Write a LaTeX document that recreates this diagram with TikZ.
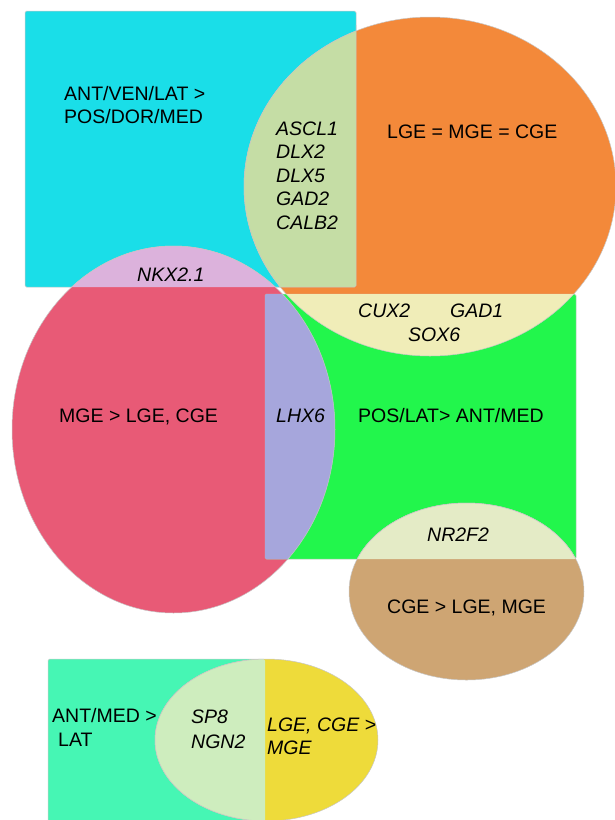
\documentclass[tikz,border=0pt]{standalone}
\usepackage{fontspec}
\setmainfont{Liberation Sans}
\definecolor{cCyan}{HTML}{1ADEE8}
\definecolor{cOrange}{HTML}{F3893A}
\definecolor{cLensA}{HTML}{C5DDA5}
\definecolor{cPink}{HTML}{DCB2DC}
\definecolor{cRed}{HTML}{E85A76}
\definecolor{cPurple}{HTML}{A6A6DC}
\definecolor{cGreen}{HTML}{22F64C}
\definecolor{cLensB}{HTML}{F0EDB8}
\definecolor{cBrown}{HTML}{CEA573}
\definecolor{cLensC}{HTML}{E4EBC6}
\definecolor{cTeal}{HTML}{46F6B4}
\definecolor{cYellow}{HTML}{EEDB3A}
\definecolor{cLensD}{HTML}{CEEDBE}
\tikzset{
  edge/.style={draw=black!22, line width=0.5pt},
  lbl/.style={anchor=base west, inner sep=0pt, font=\fontsize{19.5}{23.5}\selectfont},
  ilbl/.style={lbl, font=\fontsize{19.5}{23.5}\selectfont\itshape},
}
\begin{document}
\begin{tikzpicture}[x=1pt,y=-1pt]
\useasboundingbox (0,0) rectangle (614,820);
% shape definitions
\def\cyanrect{(25,11) rectangle (356,287)}
\def\orangeell{(430,186.5) ellipse [x radius=186, y radius=169.5]}
\def\redell{(173.5,429.5) ellipse [x radius=161.5, y radius=183.5]}
\def\greenrect{(265,294) rectangle (576,559)}
\def\brownell{(466.5,591.5) ellipse [x radius=117.5, y radius=88.5]}
\def\tealrect{(48,659) rectangle (265,830)}
\def\yellowell{(266.5,740) ellipse [x radius=111.5, y radius=81]}
% cyan rectangle and orange ellipse
\path[fill=cCyan, edge, rounded corners=1.5pt] \cyanrect;
\path[fill=cOrange, edge] \orangeell;
\begin{scope}
  \clip[rounded corners=1.5pt] \cyanrect;
  \path[fill=cLensA, edge] \orangeell;
\end{scope}
\path[edge, rounded corners=1.5pt] (356,25) -- (356,287) -- (244,287);
% red ellipse
\path[fill=cRed, edge] \redell;
\begin{scope}
  \clip[rounded corners=1.5pt] \cyanrect;
  \path[fill=cPink, edge] \redell;
\end{scope}
% green rectangle
\path[fill=cGreen, edge, rounded corners=1.5pt] \greenrect;
\begin{scope}
  \clip[rounded corners=1.5pt] \greenrect;
  \path[fill=cLensB, edge] \orangeell;
  \path[fill=cPurple, edge] \redell;
\end{scope}
% brown ellipse
\path[fill=cBrown, edge] \brownell;
\begin{scope}
  \clip[rounded corners=1.5pt] \greenrect;
  \path[fill=cLensC, edge] \brownell;
\end{scope}
% teal rectangle and yellow ellipse
\path[fill=cTeal, edge, rounded corners=1.5pt] \tealrect;
\path[fill=cYellow, edge] \yellowell;
\begin{scope}
  \clip[rounded corners=1.5pt] \tealrect;
  \path[fill=cLensD, edge] \yellowell;
\end{scope}
% labels
\node[lbl] (t1a) at (64,100) {ANT/VEN/LAT >};
\node[lbl] (t1b) at (64,123.5) {POS/DOR/MED};
\node[ilbl] (g1) at (276,135) {ASCL1};
\node[ilbl] (g2) at (276,158.5) {DLX2};
\node[ilbl] (g3) at (276,182) {DLX5};
\node[ilbl] (g4) at (276,205.5) {GAD2};
\node[ilbl] (g5) at (276,229) {CALB2};
\node[lbl] (t2) at (387,138) {LGE = MGE = CGE};
\node[ilbl] (nkx) at (137,281) {NKX2.1};
\node[ilbl] (cux) at (358,317) {CUX2};
\node[ilbl] (gad1) at (450,317) {GAD1};
\node[ilbl] (sox) at (408,341) {SOX6};
\node[lbl] (t3) at (59,422) {MGE > LGE, CGE};
\node[ilbl] (lhx) at (276,422) {LHX6};
\node[lbl] (t4) at (358,422) {POS/LAT> ANT/MED};
\node[ilbl] (nr) at (427,541) {NR2F2};
\node[lbl] (t5) at (387,613) {CGE > LGE, MGE};
\node[lbl] (t6a) at (52,722) {ANT/MED >};
\node[lbl] (t6b) at (58,746) {LAT};
\node[ilbl] (sp8) at (191,723) {SP8};
\node[ilbl] (ngn) at (191,748) {NGN2};
\node[ilbl] (t7a) at (267,731) {LGE, CGE >};
\node[ilbl] (t7b) at (267,754) {MGE};
\end{tikzpicture}
\end{document}
